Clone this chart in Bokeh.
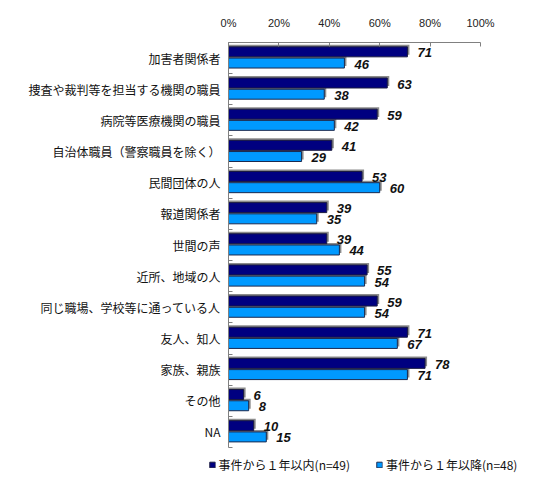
from bokeh.plotting import figure
from bokeh.models import (Range1d, FixedTicker, LinearAxis, Legend, LegendItem,
                          ColumnDataSource)
from bokeh.core.properties import value
from bokeh.embed import file_html
from bokeh.resources import INLINE

categories = ["加害者関係者", "捜査や裁判等を担当する機関の職員", "病院等医療機関の職員",
              "自治体職員（警察職員を除く）", "民間団体の人", "報道関係者", "世間の声",
              "近所、地域の人", "同じ職場、学校等に通っている人", "友人、知人",
              "家族、親族", "その他", "NA"]
within_1yr = [71, 63, 59, 41, 53, 39, 39, 55, 59, 71, 78, 6, 10]
after_1yr = [46, 38, 42, 29, 60, 35, 44, 54, 54, 67, 71, 8, 15]
series_names = ["事件から１年以内(n=49)", "事件から１年以降(n=48)"]
x_ticks = [0, 20, 40, 60, 80, 100]
x_tick_labels = ["0%", "20%", "40%", "60%", "80%", "100%"]

n = len(categories)
pos = list(range(n))
d_off, l_off, h = -0.2, 0.16, 0.32
sh_dx, sh_dy = 0.8, -0.065

src = ColumnDataSource(dict(
    y1=[p_ + d_off for p_ in pos], y2=[p_ + l_off for p_ in pos],
    y1s=[p_ + d_off + sh_dy for p_ in pos], y2s=[p_ + l_off + sh_dy for p_ in pos],
    v1=within_1yr, v2=after_1yr,
    v1s=[v + sh_dx for v in within_1yr], v2s=[v + sh_dx for v in after_1yr],
    t1=[str(v) for v in within_1yr], t2=[str(v) for v in after_1yr],
))

# frame is a little wider than the 0-100% scale so the legend sits where the reference has it
fw = 270
p = figure(output_backend="svg", toolbar_location=None,
           frame_width=fw, frame_height=405,
           x_range=Range1d(0, 100 * fw / 252), y_range=Range1d(n - 0.5, -0.5),
           x_axis_location=None, y_axis_location=None,
           min_border_left=228, min_border_top=42, min_border_right=32,
           min_border_bottom=0)
p.outline_line_color = None
p.xgrid.visible = False
p.ygrid.visible = False
p.background_fill_color = "white"

# shadows
p.hbar(y="y1s", left=0, right="v1s", height=h, source=src, fill_color="#8c8c8c",
       line_color=None)
p.hbar(y="y2s", left=0, right="v2s", height=h, source=src, fill_color="#8c8c8c",
       line_color=None)
r1 = p.hbar(y="y1", left=0, right="v1", height=h, source=src, fill_color="#000080",
            line_color="#1a1a40", line_width=1)
r2 = p.hbar(y="y2", left=0, right="v2", height=h, source=src, fill_color="#0099ff",
            line_color="#1a2a50", line_width=1)

for yk, vk, tk in (("y1", "v1", "t1"), ("y2", "v2", "t2")):
    p.text(x=vk, y=yk, text=tk, source=src, x_offset=10, y_offset=1,
           text_font=value("Liberation Sans"), text_font_size="13px",
           text_font_style="bold italic", text_color="#111111",
           text_baseline="middle", text_align="left")

xax = LinearAxis(ticker=FixedTicker(ticks=x_ticks), bounds=(0, 100),
                 major_label_overrides={t: l for t, l in zip(x_ticks, x_tick_labels)})
xax.axis_line_color = "#808080"
xax.major_tick_line_color = "#808080"
xax.major_tick_in = 4
xax.major_tick_out = 0
xax.minor_tick_line_color = None
xax.major_label_standoff = 14
xax.major_label_text_font = "Liberation Sans"
xax.major_label_text_font_size = "11px"
xax.major_label_text_color = "#222222"
p.add_layout(xax, "above")

yax = LinearAxis(ticker=FixedTicker(ticks=pos, minor_ticks=[i - 0.5 for i in range(n + 1)]),
                 major_label_overrides={i: c for i, c in zip(pos, categories)})
yax.axis_line_color = "#808080"
yax.major_tick_in = 0
yax.major_tick_out = 0
yax.major_tick_line_color = None
yax.minor_tick_line_color = "#808080"
yax.minor_tick_in = 4
yax.minor_tick_out = 0
yax.major_label_standoff = 8
yax.major_label_text_font = "Noto Sans CJK JP"
yax.major_label_text_font_size = "12px"
yax.major_label_text_color = "#111111"
p.add_layout(yax, "left")

legend = Legend(items=[LegendItem(label=series_names[0], renderers=[r1]),
                       LegendItem(label=series_names[1], renderers=[r2])],
                orientation="horizontal", location="top_center")
legend.glyph_width = 7
legend.glyph_height = 7
legend.label_height = 16
legend.label_standoff = 3
legend.spacing = 26
legend.padding = 2
legend.margin = 9
legend.border_line_color = None
legend.background_fill_alpha = 0
legend.label_text_font = "Noto Sans CJK JP"
legend.label_text_font_size = "12px"
legend.label_text_color = "#111111"
p.add_layout(legend, "below")

open("out.html", "w").write(file_html(p, INLINE))
